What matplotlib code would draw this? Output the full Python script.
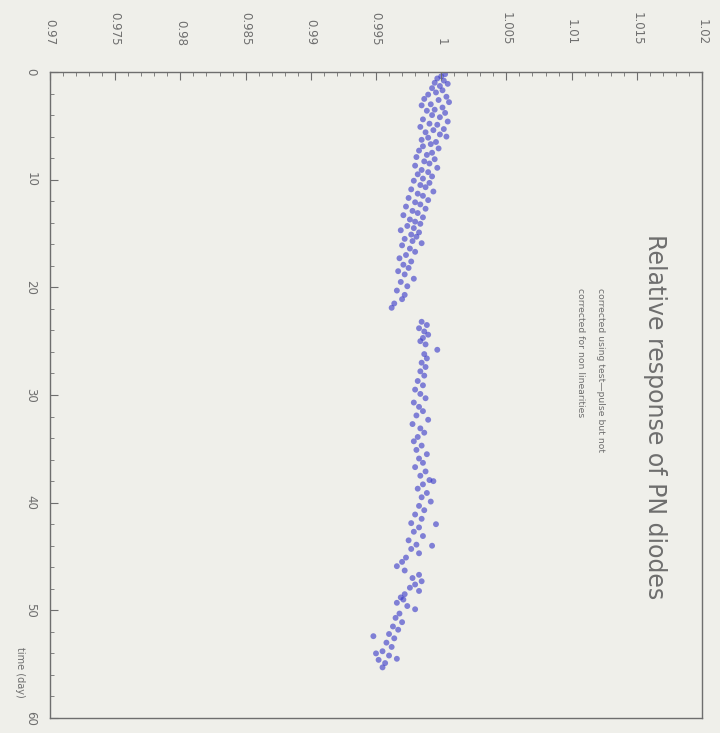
import matplotlib
matplotlib.use("Agg")
import matplotlib.pyplot as plt
from matplotlib.ticker import MultipleLocator

day = [0.2, 0.4, 0.6, 0.8, 1.0, 1.1, 1.3, 1.5, 1.7, 1.9, 2.1, 2.3, 2.5, 2.6, 2.8,
       3.0, 3.1, 3.3, 3.5, 3.6, 3.8, 4.0, 4.2, 4.4, 4.6, 4.8, 4.9, 5.1, 5.3, 5.4,
       5.6, 5.8, 6.0, 6.1, 6.3, 6.5, 6.7, 6.9, 7.1, 7.3, 7.5, 7.7, 7.9, 8.1, 8.3,
       8.5, 8.7, 8.9, 9.1, 9.3, 9.5, 9.7, 9.9,
       10.1, 10.3, 10.5, 10.7, 10.9, 11.1, 11.3, 11.5, 11.7, 11.9, 12.1, 12.3, 12.5,
       12.7, 12.9, 13.1, 13.3, 13.5, 13.7, 13.9, 14.1, 14.3, 14.5, 14.7, 14.9, 15.1,
       15.3, 15.5, 15.7, 15.9, 16.1, 16.4, 16.7, 17.0, 17.3, 17.6, 17.9, 18.2, 18.5,
       18.8, 19.2, 19.5, 19.9, 20.3, 20.7, 21.1, 21.5, 21.9,
       23.2, 23.5, 23.8, 24.1, 24.4, 24.7, 25.0, 25.3, 25.8, 26.2, 26.6, 27.0, 27.4,
       27.8, 28.2, 28.7, 29.1, 29.5, 29.9, 30.3, 30.7, 31.1, 31.5, 31.9, 32.3, 32.7,
       33.1, 33.5, 33.9, 34.3, 34.7, 35.1, 35.5, 35.9, 36.3, 36.7, 37.1, 37.5, 37.9,
       38.0, 38.3, 38.7, 39.1, 39.5, 39.9, 40.3, 40.7, 41.1, 41.5, 41.9, 42.0, 42.3,
       42.7, 43.1, 43.5, 43.9, 44.0, 44.3, 44.7, 45.1,
       45.5, 45.9, 46.3, 46.7, 47.0, 47.3, 47.6, 47.9, 48.2, 48.5, 48.8, 49.0, 49.3,
       49.6, 49.9, 50.3, 50.7, 51.1, 51.5, 51.8, 52.2, 52.4, 52.6, 53.0, 53.4, 53.8,
       54.0, 54.2, 54.5, 54.6, 54.9, 55.3]
response = [1.0003, 1.0000, 0.9997, 1.0002, 0.9995, 1.0005, 0.9999, 0.9993, 1.0001,
            0.9996, 0.9990, 1.0004, 0.9987, 0.9998, 1.0006, 0.9992, 0.9985, 1.0001,
            0.9995, 0.9989, 1.0003, 0.9993, 0.9999, 0.9986, 1.0005, 0.9991, 0.9997,
            0.9984, 1.0002, 0.9994, 0.9988, 0.9999, 1.0004, 0.9990, 0.9985, 0.9996,
            0.9992, 0.9986, 0.9998, 0.9983, 0.9993, 0.9989, 0.9981, 0.9995, 0.9987,
            0.9991, 0.9980, 0.9997, 0.9985, 0.9990, 0.9982, 0.9993, 0.9986,
            0.9979, 0.9991, 0.9984, 0.9988, 0.9977, 0.9994, 0.9982, 0.9986, 0.9975,
            0.9990, 0.9980, 0.9984, 0.9973, 0.9988, 0.9978, 0.9982, 0.9971, 0.9986,
            0.9976, 0.9980, 0.9984, 0.9974, 0.9979, 0.9969, 0.9983, 0.9977, 0.9981,
            0.9972, 0.9978, 0.9985, 0.9970, 0.9976, 0.9980, 0.9973, 0.9968, 0.9977,
            0.9971, 0.9975, 0.9967, 0.9972, 0.9979, 0.9969, 0.9974, 0.9966, 0.9972,
            0.9970, 0.9964, 0.9962,
            0.9985, 0.9989, 0.9983, 0.9987, 0.9990, 0.9986, 0.9984, 0.9988, 0.9997,
            0.9987, 0.9989, 0.9985, 0.9988, 0.9984, 0.9987, 0.9982, 0.9986, 0.9980,
            0.9984, 0.9988, 0.9979, 0.9983, 0.9986, 0.9981, 0.9990, 0.9978, 0.9984,
            0.9987, 0.9982, 0.9979, 0.9985, 0.9981, 0.9989, 0.9983, 0.9986, 0.9980,
            0.9988, 0.9984, 0.9991, 0.9994, 0.9986, 0.9982, 0.9989, 0.9985, 0.9992,
            0.9983, 0.9987, 0.9980, 0.9985, 0.9977, 0.9996, 0.9983, 0.9979, 0.9986,
            0.9975, 0.9981, 0.9993, 0.9977, 0.9983, 0.9973,
            0.9970, 0.9966, 0.9972, 0.9983, 0.9978, 0.9985, 0.9980, 0.9976, 0.9983,
            0.9972, 0.9969, 0.9971, 0.9966, 0.9974, 0.9980, 0.9968, 0.9965, 0.9970,
            0.9963, 0.9967, 0.9960, 0.9948, 0.9964, 0.9958, 0.9962, 0.9955, 0.9950,
            0.9960, 0.9966, 0.9952, 0.9957, 0.9955]

resp_ticks = [0.97, 0.975, 0.98, 0.985, 0.99, 0.995, 1.0, 1.005, 1.01, 1.015, 1.02]
resp_labels = ["0.97", "0.975", "0.98", "0.985", "0.99", "0.995", "1",
               "1.005", "1.01", "1.015", "1.02"]
day_ticks = [0, 10, 20, 30, 40, 50, 60]

title = "Relative response of PN diodes"
note = ["corrected using test\u2014pulse but not", "corrected for non linearities"]

bg = "#efefea"
grey = "#6e6e6e"

fig = plt.figure(figsize=(7.2, 7.33), dpi=100, facecolor=bg)
# whole plot is turned a quarter turn clockwise: response runs along the top,
# time runs down the left side
ax = fig.add_axes([50 / 720, 1 - 718 / 733, 652 / 720, 646 / 733], facecolor=bg)

ax.scatter(response, day, s=18, color="#3535c8", alpha=0.6, edgecolors="none")

ax.set_xlim(0.97, 1.02)
ax.set_ylim(60, 0)

ax.xaxis.tick_top()
ax.set_xticks(resp_ticks)
ax.set_xticklabels(resp_labels)
ax.xaxis.set_minor_locator(MultipleLocator(0.001))
ax.set_yticks(day_ticks)
ax.yaxis.set_minor_locator(MultipleLocator(2))

ax.tick_params(which="both", direction="in", color=grey, labelcolor=grey,
               labelsize=8.5)
ax.tick_params(which="major", length=6)
ax.tick_params(which="minor", length=3)
ax.tick_params(axis="x", pad=19)
ax.tick_params(axis="y", pad=9)
for lab in ax.get_xticklabels():
    lab.set_rotation(-90)
    lab.set_va("bottom")
    lab.set_ha("center")
for lab in ax.get_yticklabels():
    lab.set_rotation(-90)
    lab.set_va("center")
    lab.set_ha("right")

for s in ax.spines.values():
    s.set_color(grey)
    s.set_linewidth(1.0)

fig.text(655 / 720, 1 - 417 / 733, title, rotation=-90, ha="center", va="center",
         fontsize=17, color=grey)
fig.text(600 / 720, 1 - 288 / 733, note[0], rotation=-90, ha="center", va="top",
         fontsize=6.7, color=grey)
fig.text(580 / 720, 1 - 288 / 733, note[1], rotation=-90, ha="center", va="top",
         fontsize=6.7, color=grey)
fig.text(20 / 720, 1 - 672 / 733, "time (day)", rotation=-90, ha="center",
         va="center", fontsize=7, color=grey)

fig.savefig("out.png", dpi=100, facecolor=bg)
